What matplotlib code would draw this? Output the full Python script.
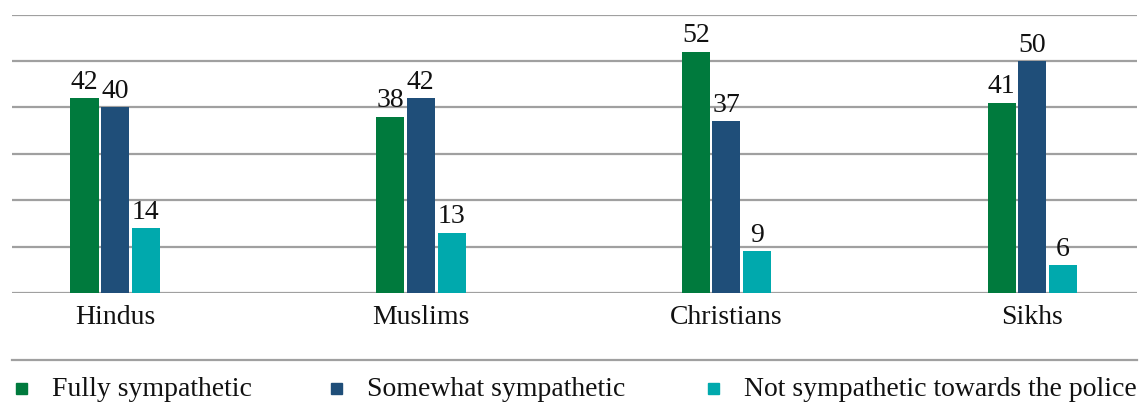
import matplotlib
matplotlib.use("Agg")
import matplotlib.pyplot as plt
from matplotlib.lines import Line2D
from matplotlib.patches import Rectangle
import numpy as np

plt.rcParams['font.family'] = ['Liberation Serif', 'DejaVu Serif']

categories = ["Hindus", "Muslims", "Christians", "Sikhs"]
fully = [42, 38, 52, 41]
somewhat = [40, 42, 37, 50]
not_symp = [14, 13, 9, 6]
series_names = ["Fully sympathetic", "Somewhat sympathetic", "Not sympathetic towards the police"]
colors = ["#007A3D", "#1F4E79", "#00A9AD"]

fig = plt.figure(figsize=(11.42, 4.05), dpi=100)
ax = fig.add_axes([12 / 1142, 1 - 293 / 405, 1125 / 1142, (293 - 14.6) / 405])

x = np.arange(len(categories))
width = 0.092
offsets = [-0.1, 0.0, 0.101]
for vals, off, col in zip([fully, somewhat, not_symp], offsets, colors):
    bars = ax.bar(x + off, vals, width=width, color=col, zorder=3)
    for b, v in zip(bars, vals):
        ax.annotate(str(v), (b.get_x() + b.get_width() / 2, v), xytext=(0, 2.5),
                    textcoords="offset points", ha="center", va="bottom",
                    fontsize=20, color="#111111", zorder=4)

ax.set_xlim(-0.337, 3.343)
ax.set_ylim(0, 60)
ax.set_yticks(np.arange(0, 61, 10))
ax.yaxis.grid(True, color="#A0A0A0", linewidth=1.6, zorder=0)
ax.tick_params(axis="y", left=False, labelleft=False)
ax.set_xticks(x)
ax.set_xticklabels(categories, fontsize=20, color="#111111")
ax.tick_params(axis="x", length=0, pad=9)
for s in ax.spines.values():
    s.set_visible(False)

# separator above legend
fig.add_artist(Line2D([12 / 1142, 1137 / 1142], [1 - 360 / 405, 1 - 360 / 405],
                      color="#A0A0A0", linewidth=1.6, transform=fig.transFigure))

# legend
leg_x = [21, 336, 713]
leg_y = 1 - 390 / 405
for name, col, lx in zip(series_names, colors, leg_x):
    fig.add_artist(Rectangle(((lx - 5.5) / 1142, leg_y - 3.5 / 405), 11 / 1142, 11 / 405,
                             color=col, transform=fig.transFigure))
    fig.text((lx + 31) / 1142, leg_y, name, fontsize=20, color="#111111",
             ha="left", va="center")

plt.savefig("out.png", dpi=100)
